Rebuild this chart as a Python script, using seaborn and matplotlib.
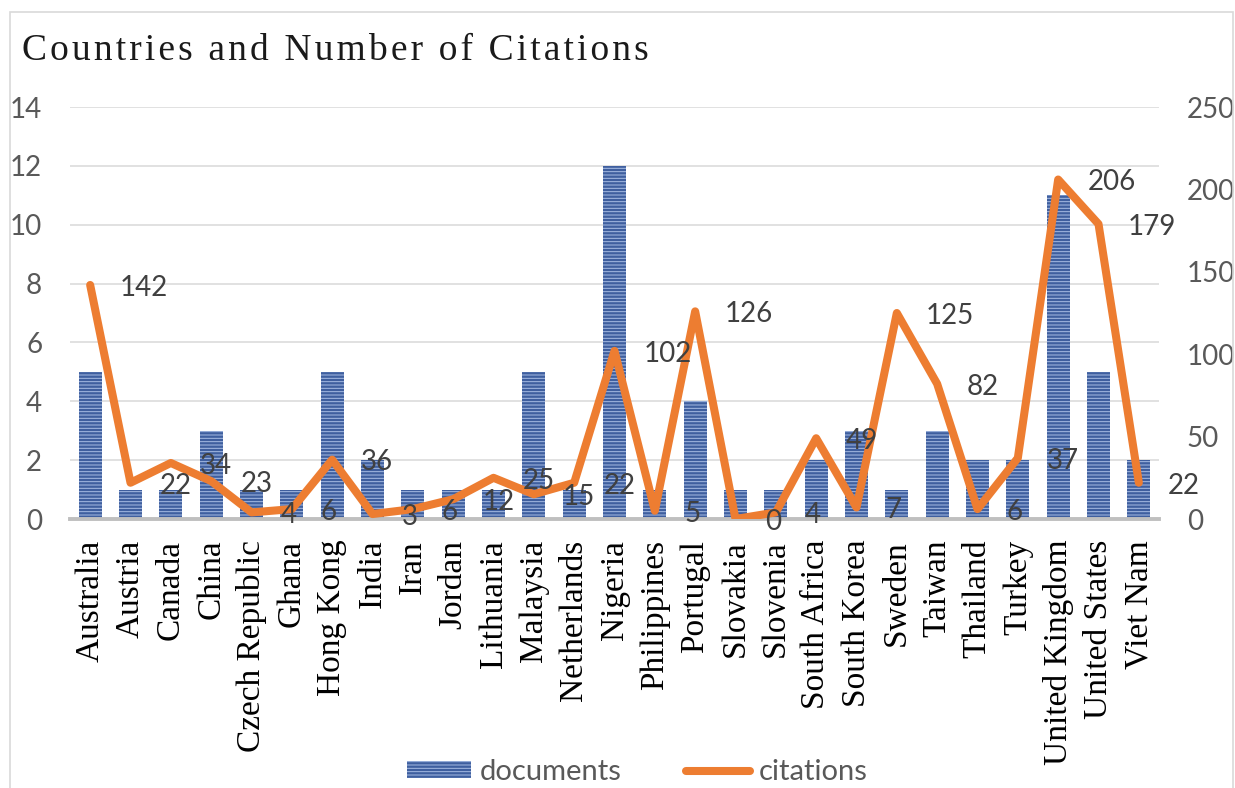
import matplotlib
matplotlib.use("Agg")
import matplotlib.pyplot as plt
import numpy as np
import pandas as pd
import seaborn as sns
from matplotlib.patches import Patch, Rectangle
from matplotlib.lines import Line2D

countries = ["Australia", "Austria", "Canada", "China", "Czech Republic", "Ghana",
             "Hong Kong", "India", "Iran", "Jordan", "Lithuania", "Malaysia",
             "Netherlands", "Nigeria", "Philippines", "Portugal", "Slovakia",
             "Slovenia", "South Africa", "South Korea", "Sweden", "Taiwan",
             "Thailand", "Turkey", "United Kingdom", "United States", "Viet Nam"]
documents = [5, 1, 1, 3, 1, 1, 5, 2, 1, 1, 1, 5, 1, 12, 1, 4, 1, 1, 2, 3, 1, 3, 2, 2, 11, 5, 2]
citations = [142, 22, 34, 23, 4, 6, 36, 3, 6, 12, 25, 15, 22, 102, 5, 126, 0, 4, 49, 7,
             125, 82, 6, 37, 206, 179, 22]
left_ticks = [0, 2, 4, 6, 8, 10, 12, 14]
right_ticks = [0, 50, 100, 150, 200, 250]
title = "Countries and Number of Citations"

BAR_BLUE = "#3F5F9F"
STRIPE = "#A7BCE4"
ORANGE = "#ED7D31"
GRAY_TXT = "#595959"
SANS = ["Liberation Sans Narrow", "Lato", "DejaVu Sans"]
SERIF = ["Liberation Serif", "DejaVu Serif"]

sns.set_style("white")
plt.rcParams["hatch.linewidth"] = 0.7

df = pd.DataFrame({"country": countries, "documents": documents,
                   "citations": citations, "pos": np.arange(len(countries))})

fig = plt.figure(figsize=(12.35, 7.88), dpi=100)
ax = fig.add_axes([70 / 1235, 1 - 519 / 788, (1159 - 70) / 1235, (519 - 107) / 788])

sns.barplot(data=df, x="country", y="documents", ax=ax, color=BAR_BLUE,
            saturation=1, width=0.57, zorder=2)
for p in ax.patches:
    p.set_hatch("-----")
    p.set_edgecolor(STRIPE)
    p.set_linewidth(0)

ax.set_ylim(0, 14)
ax.set_xlim(-0.5, len(countries) - 0.5)
ax.set_yticks(left_ticks)
ax.set_xlabel("")
ax.set_ylabel("")
ax.grid(axis="y", color="#D9D9D9", linewidth=1.1, zorder=0)
ax.set_axisbelow(True)
for s in ["top", "left", "right"]:
    ax.spines[s].set_visible(False)
ax.spines["bottom"].set_color("#BFBFBF")
ax.spines["bottom"].set_linewidth(2.8)
ax.tick_params(axis="y", length=0, pad=20, labelsize=20, labelcolor=GRAY_TXT)
ax.tick_params(axis="x", length=0, pad=15)
for lab in ax.get_yticklabels():
    lab.set_family(SANS)
ax.set_xticks(range(len(countries)))
ax.set_xticklabels(countries, rotation=90, family=SERIF, fontsize=24, color="black")

ax2 = ax.twinx()
sns.lineplot(data=df, x="pos", y="citations", ax=ax2, color=ORANGE,
             linewidth=5.8, solid_joinstyle="round", solid_capstyle="round", zorder=3)
ax2.set_ylim(0, 250)
ax2.set_yticks(right_ticks)
ax2.set_ylabel("")
ax2.set_xlabel("")
for s in ax2.spines.values():
    s.set_visible(False)
ax2.tick_params(axis="y", length=0, pad=20, labelsize=20, labelcolor=GRAY_TXT)
for lab in ax2.get_yticklabels():
    lab.set_family(SANS)
ax2.set_xlim(-0.5, len(countries) - 0.5)

# data labels, sitting to the right of each point
for x, v in zip(df["pos"], df["citations"]):
    ax2.annotate(str(v), (x, v), xytext=(21, -2), textcoords="offset points",
                 ha="left", va="center", fontsize=20, color="#404040",
                 family=SANS, zorder=5, annotation_clip=False)

# spaced-out title like the original
fig.text(22 / 1235, 1 - 60 / 788, "\u200a".join(title),
         family=SERIF, fontsize=27, color="#1a1a1a", ha="left", va="baseline")

fig.patches.append(Rectangle((10 / 1235, -0.05), 1223 / 1235, 1.05 - 12 / 788,
                             transform=fig.transFigure, fill=False,
                             edgecolor="#D9D9D9", linewidth=1.2))

handles = [Patch(facecolor=BAR_BLUE, edgecolor=STRIPE, hatch="-----", linewidth=0),
           Line2D([0], [0], color=ORANGE, linewidth=5.8, solid_capstyle="round")]
fig.legend(handles, ["documents", "citations"], loc="center",
           bbox_to_anchor=(637 / 1235, 1 - 772 / 788), ncol=2, frameon=False,
           prop={"family": SANS, "size": 21}, labelcolor=GRAY_TXT,
           handlelength=2.2, handleheight=0.5, handletextpad=0.3, columnspacing=2.2)

fig.savefig("out.png", dpi=100)
